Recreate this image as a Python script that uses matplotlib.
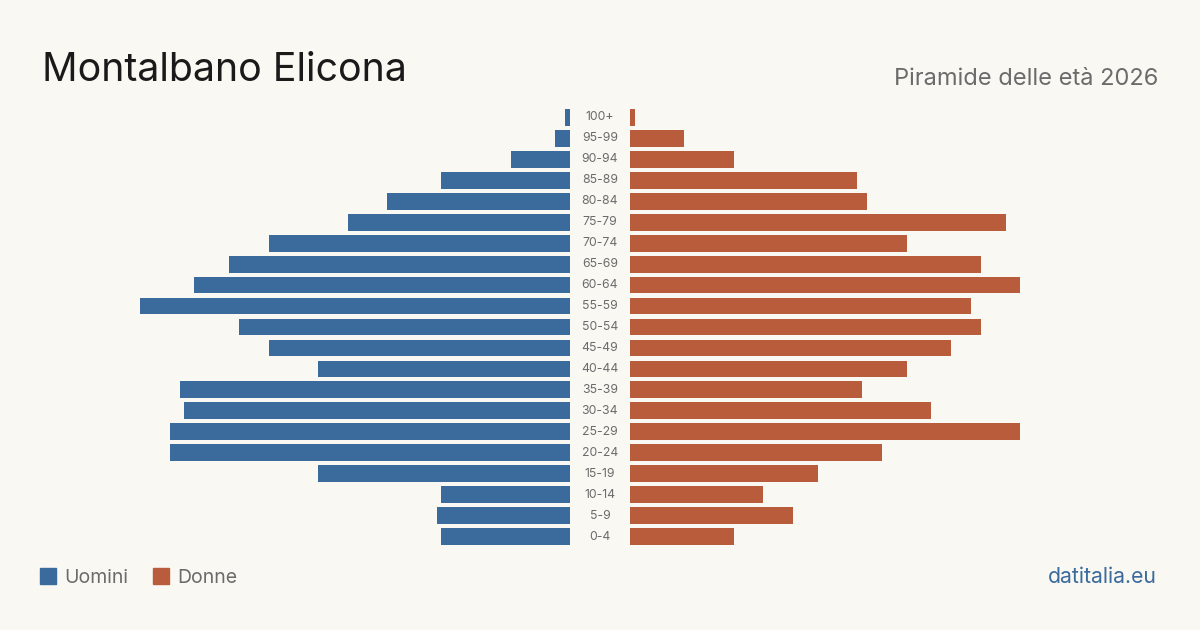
import matplotlib.pyplot as plt
from matplotlib.transforms import blended_transform_factory
from matplotlib.patches import Rectangle

# Età (dall'alto verso il basso)
eta = ['100+', '95-99', '90-94', '85-89', '80-84', '75-79', '70-74', '65-69',
       '60-64', '55-59', '50-54', '45-49', '40-44', '35-39', '30-34', '25-29',
       '20-24', '15-19', '10-14', '5-9', '0-4']
uomini = [1, 3, 12, 26, 37, 45, 61, 69, 76, 87, 67, 61, 51, 79, 78, 81,
          81, 51, 26, 27, 26]
donne = [1, 11, 21, 46, 48, 76, 56, 71, 79, 69, 71, 65, 56, 47, 61, 79,
         51, 38, 27, 33, 21]

BLU = '#3b6a9c'
ROSSO = '#b95c3b'
SFONDO = '#f9f8f3'
FONT = ['Inter', 'DejaVu Sans']

W, H = 1200, 630
fig = plt.figure(figsize=(W / 100, H / 100), dpi=100, facecolor=SFONDO)

scala = 430 / 87  # pixel per persona
top, bot = 107, 547
lim = 530 / scala

axL = fig.add_axes([40 / W, 1 - bot / H, 530 / W, (bot - top) / H])
axR = fig.add_axes([630 / W, 1 - bot / H, 530 / W, (bot - top) / H])
y = list(range(len(eta)))

axL.barh(y, uomini, height=0.8, color=BLU)
axR.barh(y, donne, height=0.8, color=ROSSO)
axL.set_xlim(lim, 0)
axR.set_xlim(0, lim)
for ax in (axL, axR):
    ax.set_ylim(len(eta) - 0.5, -0.5)
    ax.axis('off')

tr = blended_transform_factory(fig.transFigure, axL.transData)
for i, lab in enumerate(eta):
    axL.text(600 / W, i, lab, transform=tr, ha='center', va='center',
             fontsize=8.8, color='#6b6b6b', family=FONT)

fig.text(42 / W, 1 - 81 / H, 'Montalbano Elicona', fontsize=28.3, color='#1a1a1a',
         family=FONT, va='baseline')
fig.text(1158 / W, 1 - 85 / H, 'Piramide delle età 2026', fontsize=17,
         color='#6b6b6b', family=FONT, ha='right', va='baseline')

# legenda
for x0, col, txt in [(40, BLU, 'Uomini'), (153, ROSSO, 'Donne')]:
    fig.patches.append(Rectangle((x0 / W, 1 - 584 / H), 16 / W, 16 / H,
                                 transform=fig.transFigure, color=col))
    fig.text((x0 + 24) / W, 1 - 583 / H, txt, fontsize=14, color='#6b6b6b',
             family=FONT, va='baseline')

fig.text(1157 / W, 1 - 583 / H, 'datitalia.eu', fontsize=15.3, color=BLU,
         family=FONT, ha='right', va='baseline')

fig.savefig('out.png', dpi=100, facecolor=SFONDO)
